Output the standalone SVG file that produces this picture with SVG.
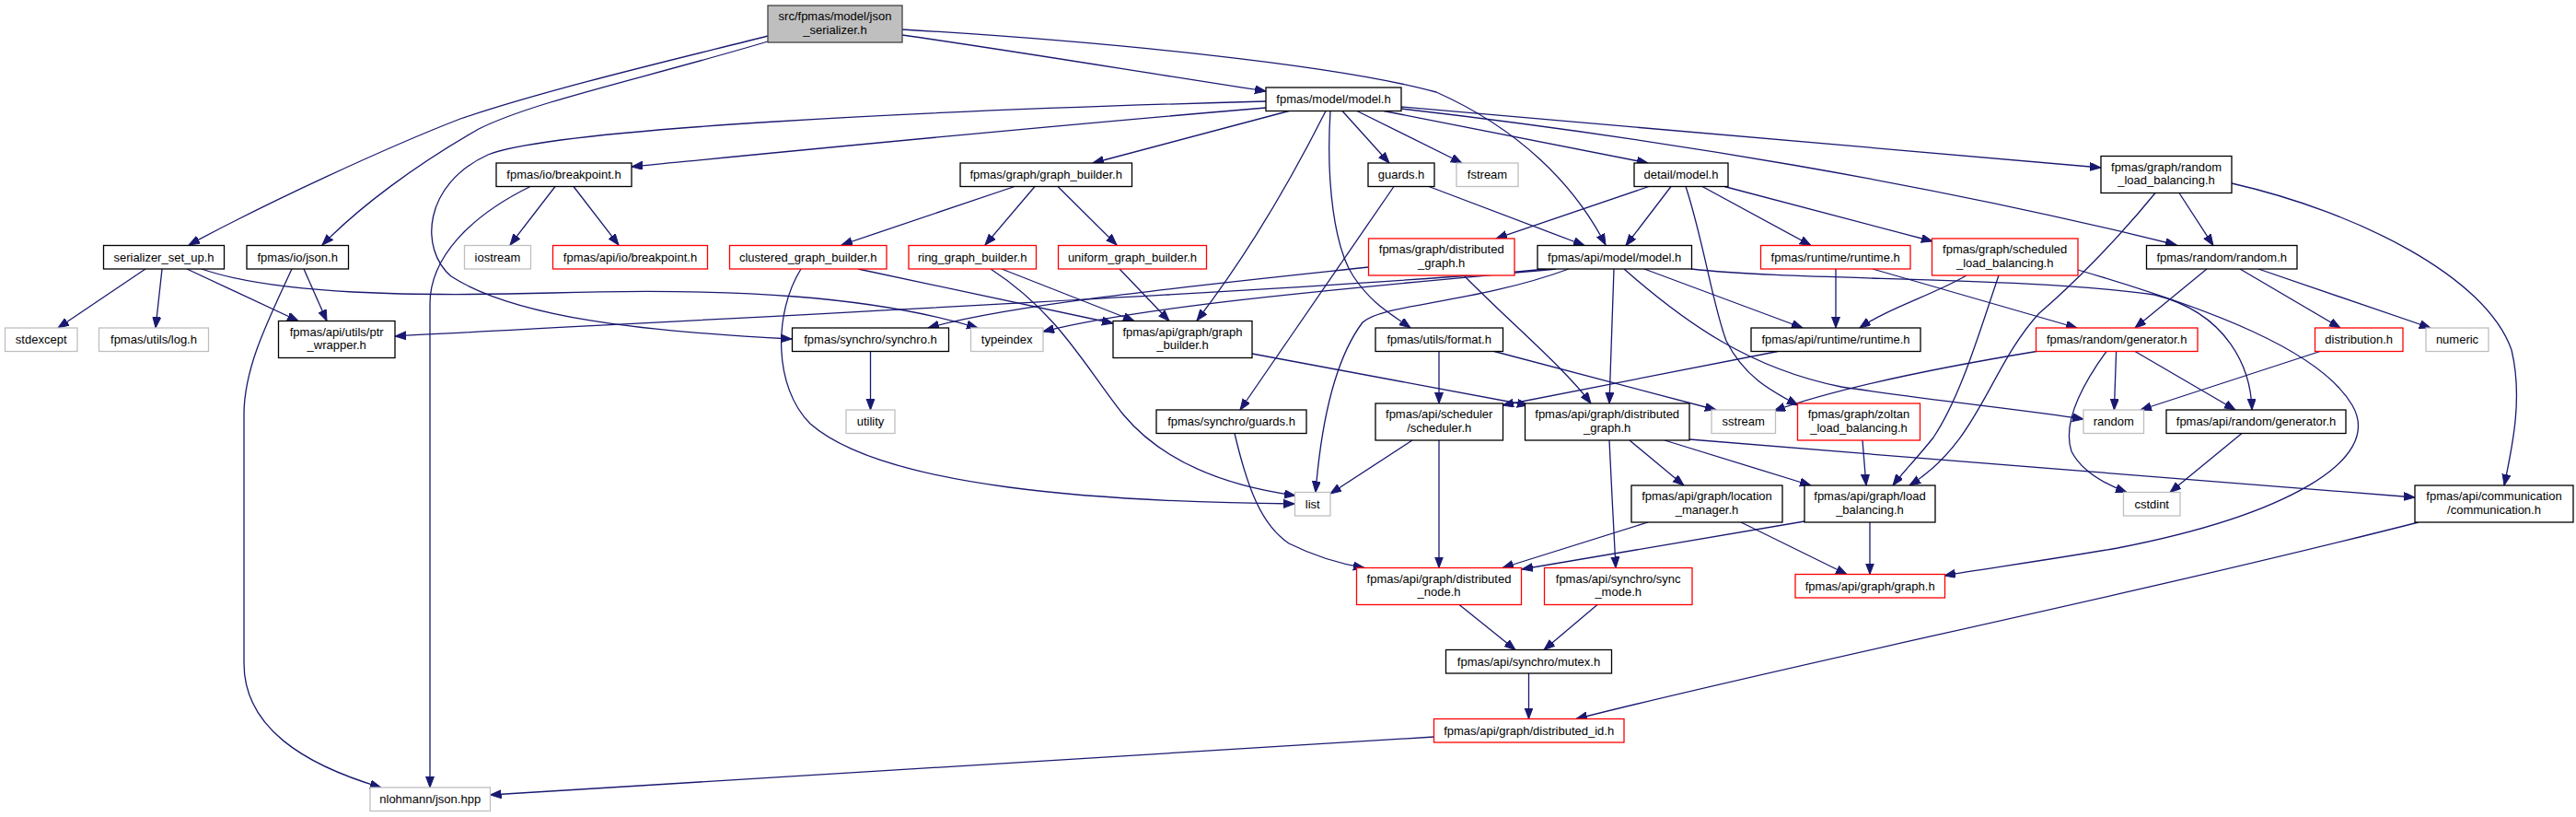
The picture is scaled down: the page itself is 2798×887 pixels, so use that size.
<svg xmlns="http://www.w3.org/2000/svg" width="2798" height="887" viewBox="0 0 2798 887">
<style>
.node rect{fill:#ffffff;stroke:#000000;stroke-width:1.3}
.node.red rect{stroke:#ff0000}
.node.ext rect{stroke:#bfbfbf}
.node.root rect{fill:#bfbfbf;stroke:#404040}
.node text{font-family:"Liberation Sans",Arial,sans-serif;font-size:13px;fill:#000000;text-anchor:middle}
#edges path{fill:none;stroke:#191970;stroke-width:1.3;marker-end:url(#arr)}
</style>
<defs>
<marker id="arr" markerUnits="userSpaceOnUse" markerWidth="13" markerHeight="10" refX="12" refY="4.5" orient="auto">
<path d="M0,0 L12,4.5 L0,9 z" fill="#191970" stroke="#191970" stroke-width="1"/>
</marker>
</defs>
<rect width="2798" height="887" fill="#ffffff"/>
<g id="edges">
<path d="M834,39 C760,58 600,95 500,129 C420,160 290,220 205,266"/>
<path d="M834,45 C700,85 580,110 520,140 C450,180 390,225 350,266"/>
<path d="M980,38 C1100,55 1250,80 1375,99"/>
<path d="M980,32 C1200,45 1450,70 1560,100 C1650,140 1710,200 1744,266"/>
<path d="M1375,117 C1100,140 850,165 686,181"/>
<path d="M1375,110 C1000,120 600,140 530,168 C460,200 455,270 490,300 C560,345 700,360 860,368"/>
<path d="M1400,120.5 L1187,177"/>
<path d="M1440,120.5 C1410,180 1360,270 1300,348"/>
<path d="M1445,120.5 C1440,200 1450,270 1470,300 C1490,330 1510,340 1532,356"/>
<path d="M1458,120.5 L1509,177"/>
<path d="M1474,120.5 L1588,177"/>
<path d="M1503,120.5 L1790,177"/>
<path d="M1522,116 L2282,182"/>
<path d="M1522,118 C1800,150 2100,200 2364,266"/>
<path d="M603,202.5 L554,266"/>
<path d="M623,202.5 L672,266"/>
<path d="M576,202.5 C510,235 467,280 467,330 L467,855"/>
<path d="M317,292 C290,350 265,400 265,450 L265,720 C265,790 330,830 414,855"/>
<path d="M330,292 L355,348.5"/>
<path d="M158,292 L63,356"/>
<path d="M176,292 L169,356"/>
<path d="M203,292 L324,348.5"/>
<path d="M219,292 C300,320 450,322 600,318 C800,312 950,322 1062,356"/>
<path d="M1102,202.5 L914,266"/>
<path d="M1124,202.5 L1070,266"/>
<path d="M1149,202.5 L1213,266"/>
<path d="M932,292 L1209,351"/>
<path d="M870,292 C840,340 840,420 880,460 C960,530 1200,545 1406,547"/>
<path d="M1076,292 C1150,340 1180,400 1220,450 C1270,510 1350,530 1407,538"/>
<path d="M1088,292 L1232,348.5"/>
<path d="M1216,292 L1270,348.5"/>
<path d="M1552,202.5 L1721,266.5"/>
<path d="M1514,202.5 L1347,445"/>
<path d="M1791,202.5 L1625,259"/>
<path d="M1815,202.5 L1766,266.5"/>
<path d="M1849,202.5 L1967,266.5"/>
<path d="M1873,202.5 L2099,262"/>
<path d="M1831,202.5 C1850,260 1860,330 1875,370 C1895,410 1925,425 1953,440"/>
<path d="M1487,290 C1300,310 1100,330 1008,356"/>
<path d="M1590,299 C1640,350 1700,400 1728,438"/>
<path d="M1680,292 C1500,310 900,340 429,365"/>
<path d="M1690,292 C1500,310 1250,330 1133,360"/>
<path d="M1704,292 C1600,330 1500,330 1480,350 C1450,390 1435,460 1429,534.5"/>
<path d="M1753,292 L1748,438"/>
<path d="M1786,292 L1958,356"/>
<path d="M1764,292 C1830,350 1900,400 2000,420 C2100,435 2200,445 2263,455"/>
<path d="M1837,292 C1950,305 2200,300 2340,320 C2420,340 2445,400 2446,445"/>
<path d="M1994,292 L1994,356"/>
<path d="M2034,292 L2256,356"/>
<path d="M2136,299 C2100,320 2050,335 2020,356"/>
<path d="M2171,299 C2150,360 2130,430 2100,475 C2080,500 2065,515 2056,527"/>
<path d="M2257,293 C2400,335 2520,380 2555,440 C2590,500 2480,560 2300,595 C2200,612 2150,618 2112,625"/>
<path d="M2367,209.5 L2404,266.5"/>
<path d="M2341,209.5 C2300,260 2250,310 2215,340 C2160,400 2150,480 2074,527"/>
<path d="M2424,199 C2560,230 2700,300 2728,380 C2740,430 2730,480 2720,527"/>
<path d="M2397,292 L2319,356"/>
<path d="M2433,292 L2542,356"/>
<path d="M2453,292 L2640,356"/>
<path d="M2298.6,381.5 L2296.4,445"/>
<path d="M2319,381.5 L2428,445"/>
<path d="M2288,381.5 C2260,420 2240,460 2250,490 C2260,510 2285,525 2310,534.5"/>
<path d="M2212,381.5 C2100,400 2000,420 1927,446"/>
<path d="M2520,381.5 L2325,445"/>
<path d="M2435,470.5 L2357,534.5"/>
<path d="M945.5,381.5 L945.5,445"/>
<path d="M1563,381.5 L1563,438"/>
<path d="M1623,381.5 L1864,445"/>
<path d="M1931,381.5 L1632,440"/>
<path d="M1360,384 L1660,440"/>
<path d="M1534,478 L1445,536"/>
<path d="M1563,478 L1563,616.5"/>
<path d="M1770,478 L1829,527"/>
<path d="M1808,478 L1967,527"/>
<path d="M1835,477 C2100,500 2400,520 2623,540"/>
<path d="M1748,478 C1750,520 1753,580 1755,616.5"/>
<path d="M2023,478 L2027,527"/>
<path d="M1790,567 L1632,616.5"/>
<path d="M1891,567 L2006,623.5"/>
<path d="M1960,566 L1653,618"/>
<path d="M2031,567 L2031,623.5"/>
<path d="M1341,470.5 C1355,530 1370,570 1400,590 C1430,605 1455,612 1482,616.5"/>
<path d="M2627,567 C2300,650 1950,720 1712,780.5"/>
<path d="M1585,656.5 L1646,705.5"/>
<path d="M1735,656.5 L1677,705.5"/>
<path d="M1660.5,731 L1660.5,780.5"/>
<path d="M1557.5,800 L532.5,863"/>
</g>
<g id="n_root" class="node root"><rect x="834" y="6" width="146" height="40"/><text x="907" y="22">src/fpmas/model/json</text><text x="907" y="36.5">_serializer.h</text></g>
<g id="n_model" class="node"><rect x="1375" y="95" width="147" height="25.5"/><text x="1448.5" y="112">fpmas/model/model.h</text></g>
<g id="n_io_breakpoint" class="node"><rect x="539" y="177" width="147" height="25.5"/><text x="612.5" y="194">fpmas/io/breakpoint.h</text></g>
<g id="n_graph_builder" class="node"><rect x="1043" y="177" width="186.5" height="25.5"/><text x="1136.2" y="194">fpmas/graph/graph_builder.h</text></g>
<g id="n_guards" class="node"><rect x="1486" y="177" width="72" height="25.5"/><text x="1522" y="194">guards.h</text></g>
<g id="n_fstream" class="node ext"><rect x="1582" y="177" width="67" height="25.5"/><text x="1615.5" y="194">fstream</text></g>
<g id="n_detail_model" class="node"><rect x="1775" y="177" width="102" height="25.5"/><text x="1826" y="194">detail/model.h</text></g>
<g id="n_random_lb" class="node"><rect x="2282" y="169.5" width="142" height="40"/><text x="2353" y="185.5">fpmas/graph/random</text><text x="2353" y="200">_load_balancing.h</text></g>
<g id="n_serializer_set_up" class="node"><rect x="112.5" y="266.5" width="131" height="25.5"/><text x="178" y="283.5">serializer_set_up.h</text></g>
<g id="n_io_json" class="node"><rect x="268" y="266.5" width="110.5" height="25.5"/><text x="323.2" y="283.5">fpmas/io/json.h</text></g>
<g id="n_iostream" class="node ext"><rect x="504.5" y="266.5" width="72" height="25.5"/><text x="540.5" y="283.5">iostream</text></g>
<g id="n_api_io_breakpoint" class="node red"><rect x="600.5" y="266.5" width="168" height="25.5"/><text x="684.5" y="283.5">fpmas/api/io/breakpoint.h</text></g>
<g id="n_clustered" class="node red"><rect x="792.5" y="266.5" width="170.5" height="25.5"/><text x="877.7" y="283.5">clustered_graph_builder.h</text></g>
<g id="n_ring" class="node red"><rect x="987" y="266.5" width="138.5" height="25.5"/><text x="1056.2" y="283.5">ring_graph_builder.h</text></g>
<g id="n_uniform" class="node red"><rect x="1149.5" y="266.5" width="161" height="25.5"/><text x="1230" y="283.5">uniform_graph_builder.h</text></g>
<g id="n_graph_distributed_graph" class="node red"><rect x="1486.5" y="259" width="158.5" height="40"/><text x="1565.7" y="275">fpmas/graph/distributed</text><text x="1565.7" y="289.5">_graph.h</text></g>
<g id="n_api_model" class="node"><rect x="1670" y="266.5" width="167.5" height="25.5"/><text x="1753.7" y="283.5">fpmas/api/model/model.h</text></g>
<g id="n_runtime" class="node red"><rect x="1912.5" y="266.5" width="162.5" height="25.5"/><text x="1993.7" y="283.5">fpmas/runtime/runtime.h</text></g>
<g id="n_scheduled_lb" class="node red"><rect x="2098.5" y="259" width="158.5" height="40"/><text x="2177.7" y="275">fpmas/graph/scheduled</text><text x="2177.7" y="289.5">_load_balancing.h</text></g>
<g id="n_random_random" class="node"><rect x="2331.5" y="266.5" width="163.5" height="25.5"/><text x="2413.2" y="283.5">fpmas/random/random.h</text></g>
<g id="n_stdexcept" class="node ext"><rect x="5.5" y="356" width="78.5" height="25.5"/><text x="44.7" y="373">stdexcept</text></g>
<g id="n_log" class="node ext"><rect x="107.5" y="356" width="119" height="25.5"/><text x="167" y="373">fpmas/utils/log.h</text></g>
<g id="n_ptr_wrapper" class="node"><rect x="302.5" y="348.5" width="126.5" height="40"/><text x="365.7" y="364.5">fpmas/api/utils/ptr</text><text x="365.7" y="379">_wrapper.h</text></g>
<g id="n_synchro" class="node"><rect x="860.5" y="356" width="170" height="25.5"/><text x="945.5" y="373">fpmas/synchro/synchro.h</text></g>
<g id="n_typeindex" class="node ext"><rect x="1054.5" y="356" width="78.5" height="25.5"/><text x="1093.7" y="373">typeindex</text></g>
<g id="n_api_graph_builder" class="node"><rect x="1209" y="348.5" width="151" height="40"/><text x="1284.5" y="364.5">fpmas/api/graph/graph</text><text x="1284.5" y="379">_builder.h</text></g>
<g id="n_format" class="node"><rect x="1494" y="356" width="138.5" height="25.5"/><text x="1563.2" y="373">fpmas/utils/format.h</text></g>
<g id="n_api_runtime" class="node"><rect x="1902" y="356" width="184" height="25.5"/><text x="1994" y="373">fpmas/api/runtime/runtime.h</text></g>
<g id="n_random_generator" class="node red"><rect x="2211.5" y="356" width="175.5" height="25.5"/><text x="2299.2" y="373">fpmas/random/generator.h</text></g>
<g id="n_distribution" class="node red"><rect x="2514.5" y="356" width="95.5" height="25.5"/><text x="2562.2" y="373">distribution.h</text></g>
<g id="n_numeric" class="node ext"><rect x="2635" y="356" width="68" height="25.5"/><text x="2669" y="373">numeric</text></g>
<g id="n_utility" class="node ext"><rect x="919" y="445" width="53" height="25.5"/><text x="945.5" y="462">utility</text></g>
<g id="n_synchro_guards" class="node"><rect x="1256" y="445" width="163" height="25.5"/><text x="1337.5" y="462">fpmas/synchro/guards.h</text></g>
<g id="n_scheduler" class="node"><rect x="1494" y="438" width="138.5" height="40"/><text x="1563.2" y="454">fpmas/api/scheduler</text><text x="1563.2" y="468.5">/scheduler.h</text></g>
<g id="n_api_distributed_graph" class="node"><rect x="1656.5" y="438" width="178.5" height="40"/><text x="1745.7" y="454">fpmas/api/graph/distributed</text><text x="1745.7" y="468.5">_graph.h</text></g>
<g id="n_sstream" class="node ext"><rect x="1859" y="445" width="69.5" height="25.5"/><text x="1893.7" y="462">sstream</text></g>
<g id="n_zoltan" class="node red"><rect x="1952.5" y="438" width="133" height="40"/><text x="2019" y="454">fpmas/graph/zoltan</text><text x="2019" y="468.5">_load_balancing.h</text></g>
<g id="n_random" class="node ext"><rect x="2263" y="445" width="65.5" height="25.5"/><text x="2295.7" y="462">random</text></g>
<g id="n_api_random_generator" class="node"><rect x="2353" y="445" width="195" height="25.5"/><text x="2450.5" y="462">fpmas/api/random/generator.h</text></g>
<g id="n_list" class="node ext"><rect x="1406.5" y="534.5" width="38.5" height="25.5"/><text x="1425.7" y="551.5">list</text></g>
<g id="n_location_manager" class="node"><rect x="1772" y="527" width="164" height="40"/><text x="1854" y="543">fpmas/api/graph/location</text><text x="1854" y="557.5">_manager.h</text></g>
<g id="n_load_balancing" class="node"><rect x="1960" y="527" width="142" height="40"/><text x="2031" y="543">fpmas/api/graph/load</text><text x="2031" y="557.5">_balancing.h</text></g>
<g id="n_cstdint" class="node ext"><rect x="2306.5" y="534.5" width="61.5" height="25.5"/><text x="2337.2" y="551.5">cstdint</text></g>
<g id="n_communication" class="node"><rect x="2623" y="527" width="172" height="40"/><text x="2709" y="543">fpmas/api/communication</text><text x="2709" y="557.5">/communication.h</text></g>
<g id="n_distributed_node" class="node red"><rect x="1473.5" y="616.5" width="179" height="40"/><text x="1563" y="632.5">fpmas/api/graph/distributed</text><text x="1563" y="647">_node.h</text></g>
<g id="n_sync_mode" class="node red"><rect x="1677.5" y="616.5" width="160.5" height="40"/><text x="1757.7" y="632.5">fpmas/api/synchro/sync</text><text x="1757.7" y="647">_mode.h</text></g>
<g id="n_graph" class="node red"><rect x="1950" y="623.5" width="162.5" height="25.5"/><text x="2031.2" y="640.5">fpmas/api/graph/graph.h</text></g>
<g id="n_mutex" class="node"><rect x="1570.5" y="705.5" width="180" height="25.5"/><text x="1660.5" y="722.5">fpmas/api/synchro/mutex.h</text></g>
<g id="n_distributed_id" class="node red"><rect x="1557.5" y="780.5" width="206.5" height="25.5"/><text x="1660.7" y="797.5">fpmas/api/graph/distributed_id.h</text></g>
<g id="n_nlohmann" class="node ext"><rect x="402" y="855" width="130.5" height="25.5"/><text x="467.2" y="872">nlohmann/json.hpp</text></g>
</svg>
